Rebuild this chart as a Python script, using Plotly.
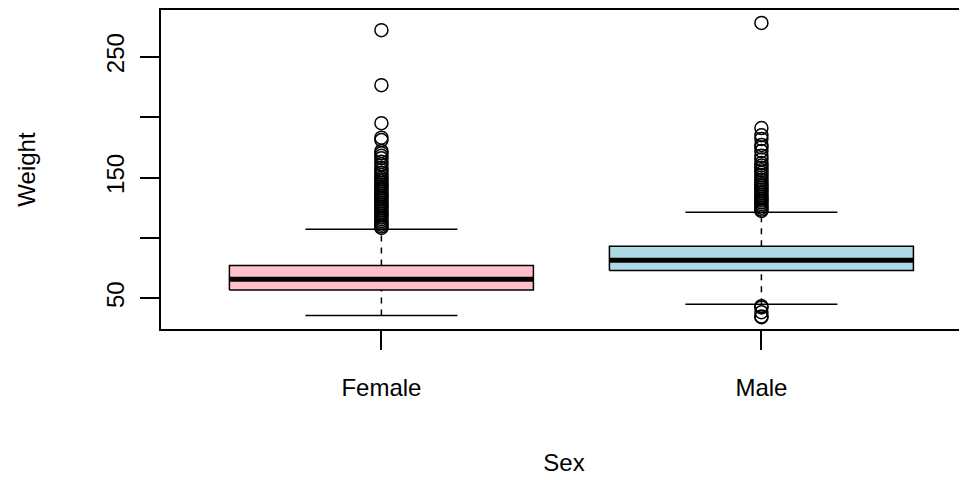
import plotly.graph_objects as go

# ---- data ----
categories = ["Female", "Male"]
q1 = [56.9, 73.0]
median = [65.8, 81.5]
q3 = [77.1, 93.1]
lower_whisker = [35.8, 45.0]
upper_whisker = [107.2, 121.3]
fills = ["#FFC0CB", "#ADD8E6"]

female_outliers = [272, 226.5, 195, 183, 181, 172, 170, 168, 166, 163, 161, 158, 156, 154,
                   152, 150, 148.5, 147, 145.5, 144, 142.5, 141, 139.5, 138, 136.5, 135,
                   133.5, 132, 130.5, 129, 127.5, 126, 124.5, 123, 121.5, 120, 118.5, 117,
                   115.5, 114, 112.5, 111, 109.5, 108.3]
male_outliers = [278, 191, 185, 182, 177, 175, 172, 168, 165, 162, 160, 158, 156, 154, 152,
                 150, 148, 146, 144.5, 143, 141.5, 140, 138.5, 137, 135.5, 134, 132.5, 131,
                 129.5, 128, 126.5, 125, 123.5, 122.3,
                 43.5, 42.5, 38.5, 35, 34.4]
outliers = [female_outliers, male_outliers]

y_tick_vals = [50, 100, 150, 200, 250]
y_tick_text = ["50", "", "150", "", "250"]

BOXW = 0.4     # half box width
STAPW = 0.2    # half staple width
FONT = "Liberation Sans, Arial, Helvetica, sans-serif"
FS = 24

fig = go.Figure()
for i, cat in enumerate(categories):
    xc = i + 1
    # whiskers (dashed)
    fig.add_trace(go.Scatter(x=[xc, xc], y=[q3[i], upper_whisker[i]], mode="lines",
                             line=dict(color="black", width=1.5, dash="6px,6px"),
                             showlegend=False, hoverinfo="skip"))
    fig.add_trace(go.Scatter(x=[xc, xc], y=[lower_whisker[i], q1[i]], mode="lines",
                             line=dict(color="black", width=1.5, dash="6px,6px"),
                             showlegend=False, hoverinfo="skip"))
    # staples
    for yv in (upper_whisker[i], lower_whisker[i]):
        fig.add_trace(go.Scatter(x=[xc - STAPW, xc + STAPW], y=[yv, yv], mode="lines",
                                 line=dict(color="black", width=1.5),
                                 showlegend=False, hoverinfo="skip"))
    # box
    fig.add_trace(go.Scatter(x=[xc - BOXW, xc + BOXW, xc + BOXW, xc - BOXW, xc - BOXW],
                             y=[q1[i], q1[i], q3[i], q3[i], q1[i]], mode="lines",
                             fill="toself", fillcolor=fills[i],
                             line=dict(color="black", width=1.5),
                             showlegend=False, hoverinfo="skip"))
    # median
    fig.add_trace(go.Scatter(x=[xc - BOXW, xc + BOXW], y=[median[i], median[i]], mode="lines",
                             line=dict(color="black", width=5),
                             showlegend=False, hoverinfo="skip"))
    # outliers
    fig.add_trace(go.Scatter(x=[xc] * len(outliers[i]), y=outliers[i], mode="markers",
                             marker=dict(symbol="circle-open", size=13, color="black",
                                         line=dict(width=1.5, color="black")),
                             showlegend=False, hoverinfo="skip"))

fig.update_layout(
    width=959, height=472,
    margin=dict(l=153, r=0, t=2, b=151),
    paper_bgcolor="white", plot_bgcolor="white",
    font=dict(family=FONT, size=FS, color="black"),
    xaxis=dict(range=[0.42, 2.541], tickvals=[1, 2], ticktext=categories,
               showline=True, mirror=True, linecolor="black", linewidth=1.5,
               ticks="outside", ticklen=19, tickwidth=1.5, tickcolor="black",
               ticklabelstandoff=17,
               showgrid=False, zeroline=False,
               title=dict(text="Sex", standoff=55, font=dict(size=FS))),
    yaxis=dict(range=[24.6, 288.7], tickvals=y_tick_vals, ticktext=y_tick_text,
               tickangle=-90, ticklabelstandoff=7,
               showline=True, mirror=False, linecolor="black", linewidth=1.5,
               ticks="outside", ticklen=19, tickwidth=1.5, tickcolor="black",
               showgrid=False, zeroline=False,
               title=dict(text="Weight", standoff=59, font=dict(size=FS))),
)

fig.write_html("out.html")
